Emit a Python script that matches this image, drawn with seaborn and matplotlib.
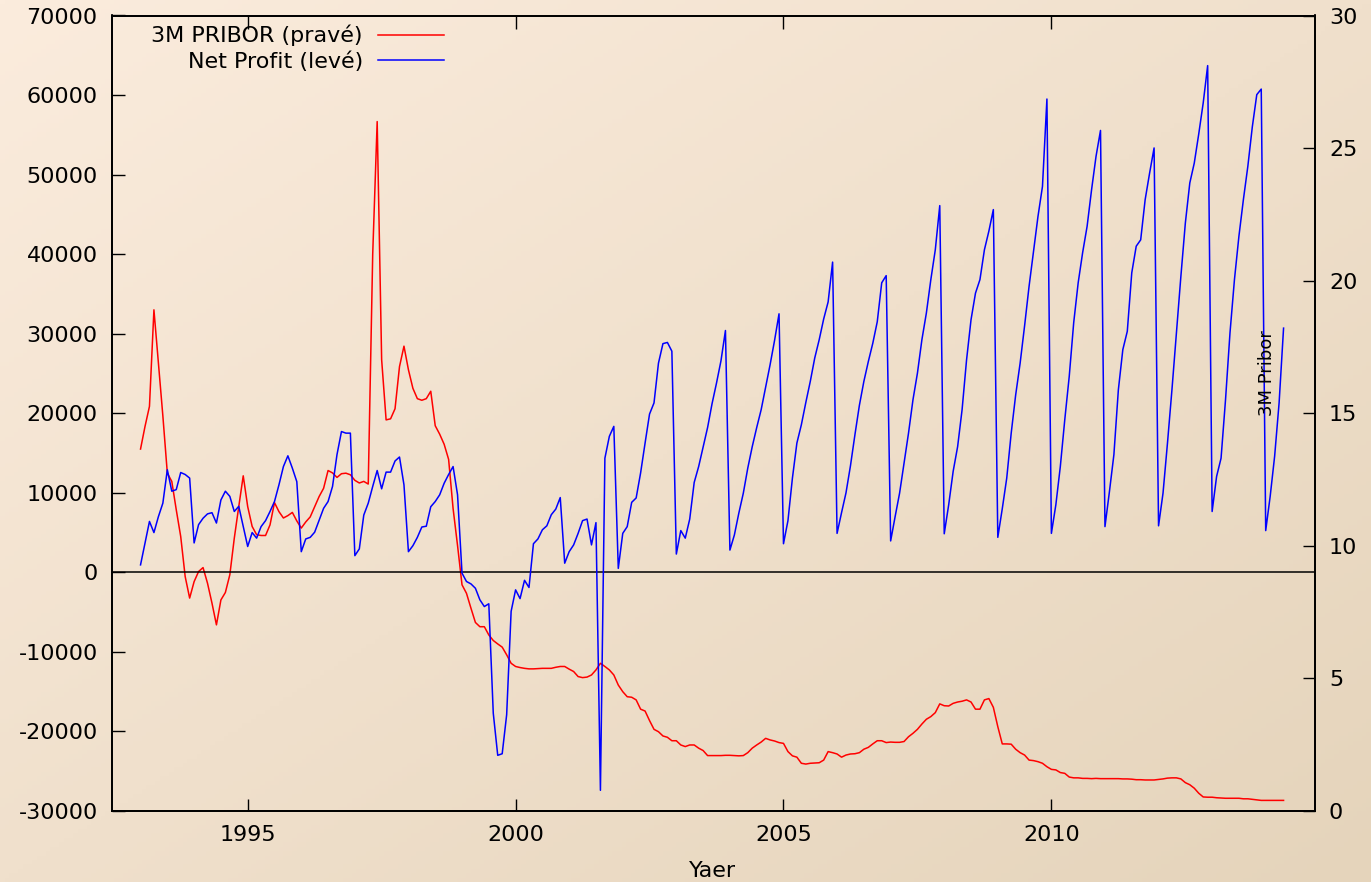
import numpy as np
import pandas as pd
import matplotlib
matplotlib.use('Agg')
import matplotlib.pyplot as plt
import seaborn as sns
from matplotlib.lines import Line2D

plt.rcParams['axes.unicode_minus'] = False

# monthly data, Jan 1993 .. May 2014
start_year = 1993

# Net profit (left axis), one row per year
net_profit = [
    940, 3700, 6400, 5000, 7000, 8700, 12900, 10200, 10400, 12550, 12300, 11850,          # 1993
    3700, 6000, 6800, 7350, 7500, 6200, 9100, 10200, 9550, 7650, 8300, 5750,              # 1994
    3250, 5000, 4300, 5750, 6500, 7650, 8900, 11000, 13300, 14650, 13100, 11400,          # 1995
    2600, 4200, 4400, 5050, 6550, 8050, 8900, 10800, 14800, 17700, 17500, 17500,          # 1996
    2100, 2950, 7200, 8700, 10800, 12800, 10500, 12600, 12600, 14000, 14500, 11000,       # 1997
    2600, 3350, 4400, 5700, 5800, 8250, 8900, 9750, 11200, 12300, 13300, 9750,            # 1998
    -100, -1150, -1450, -2000, -3450, -4300, -3950, -17700, -23000, -22800, -17900, -4900,  # 1999
    -2200, -3300, -1000, -1900, 3600, 4200, 5350, 5850, 7250, 7950, 9400, 1150,           # 2000
    2600, 3450, 4900, 6500, 6700, 3450, 6250, -27400, 14350, 17100, 18350, 500,           # 2001
    4900, 5750, 8800, 9350, 12500, 16250, 19900, 21300, 26300, 28750, 28900, 27800,       # 2002
    2300, 5250, 4300, 6700, 11300, 13300, 15750, 18200, 21200, 23800, 26600, 30400,       # 2003
    2800, 4700, 7450, 9950, 13100, 15800, 18200, 20450, 23300, 26100, 29150, 32500,       # 2004
    3600, 6500, 11850, 16250, 18550, 21350, 24000, 26950, 29250, 31850, 34000, 39000,     # 2005
    4900, 7500, 10000, 13400, 17300, 21000, 24000, 26500, 28800, 31500, 36400, 37300,     # 2006
    3950, 7000, 9950, 13700, 17500, 21700, 25050, 29250, 32600, 36800, 40550, 46100,      # 2007
    4850, 8500, 12700, 15800, 20450, 26700, 31750, 35100, 36800, 40550, 42900, 45600,     # 2008
    4400, 8000, 11850, 17500, 22300, 26300, 31000, 35950, 40300, 44750, 48500, 59500,     # 2009
    4900, 8500, 13300, 19200, 24650, 31400, 36400, 40200, 43500, 48100, 52300, 55550,     # 2010
    5750, 10150, 14800, 22950, 28000, 30300, 37650, 41000, 41800, 46850, 50200, 53350,    # 2011
    5850, 9950, 16250, 22950, 30100, 37200, 43900, 48950, 51450, 55100, 59000, 63700,     # 2012
    7650, 12050, 14350, 21700, 30100, 36800, 42250, 46850, 51050, 56000, 60050, 60750,    # 2013
    5250, 9550, 14600, 21300, 30700,                                                      # 2014
]

# 3M PRIBOR (right axis)
pribor = [
    13.65, 14.5, 15.26, 18.9, 16.9, 14.9, 12.74, 12.43, 11.36, 10.35, 8.84, 8.03,   # 1993
    8.65, 9.03, 9.18, 8.59, 7.84, 7.02, 7.96, 8.24, 8.91, 10.29, 11.48, 12.64,      # 1994
    11.48, 10.73, 10.42, 10.39, 10.39, 10.79, 11.63, 11.29, 11.05, 11.14, 11.26, 10.94,  # 1995
    10.67, 10.9, 11.09, 11.47, 11.86, 12.17, 12.84, 12.75, 12.58, 12.72, 12.74, 12.68,   # 1996
    12.47, 12.37, 12.43, 12.33, 21.0, 26.0, 17.02, 14.75, 14.79, 15.17, 16.76, 17.53,    # 1997
    16.64, 15.94, 15.55, 15.49, 15.55, 15.83, 14.53, 14.21, 13.83, 13.26, 11.41, 10.01,  # 1998
    8.53, 8.21, 7.65, 7.11, 6.95, 6.95, 6.64, 6.43, 6.30, 6.18, 5.89, 5.57,         # 1999
    5.45, 5.41, 5.38, 5.36, 5.36, 5.37, 5.38, 5.38, 5.38, 5.42, 5.45, 5.45,         # 2000
    5.35, 5.26, 5.07, 5.03, 5.05, 5.13, 5.32, 5.57, 5.45, 5.32, 5.13, 4.75,         # 2001
    4.5, 4.31, 4.29, 4.19, 3.84, 3.77, 3.41, 3.08, 2.99, 2.83, 2.78, 2.65,          # 2002
    2.65, 2.49, 2.43, 2.49, 2.49, 2.37, 2.28, 2.09, 2.09, 2.09, 2.09, 2.1,          # 2003
    2.1, 2.09, 2.08, 2.09, 2.2, 2.37, 2.49, 2.6, 2.74, 2.68, 2.64, 2.58,            # 2004
    2.55, 2.24, 2.08, 2.03, 1.8, 1.77, 1.8, 1.81, 1.82, 1.92, 2.24, 2.2,            # 2005
    2.15, 2.03, 2.11, 2.15, 2.16, 2.2, 2.33, 2.4, 2.53, 2.65, 2.65, 2.58,           # 2006
    2.6, 2.59, 2.59, 2.62, 2.8, 2.93, 3.08, 3.28, 3.46, 3.56, 3.71, 4.04,           # 2007
    3.97, 3.96, 4.06, 4.11, 4.14, 4.19, 4.11, 3.84, 3.84, 4.19, 4.24, 3.91,         # 2008
    3.18, 2.53, 2.53, 2.52, 2.33, 2.2, 2.11, 1.92, 1.9, 1.86, 1.8, 1.67,            # 2009
    1.57, 1.55, 1.45, 1.42, 1.28, 1.25, 1.25, 1.23, 1.23, 1.22, 1.23, 1.22,         # 2010
    1.22, 1.22, 1.22, 1.22, 1.21, 1.21, 1.2, 1.18, 1.18, 1.17, 1.17, 1.17,          # 2011
    1.19, 1.21, 1.24, 1.25, 1.25, 1.21, 1.07, 0.99, 0.86, 0.67, 0.53, 0.52,         # 2012
    0.52, 0.5, 0.49, 0.48, 0.48, 0.48, 0.48, 0.46, 0.46, 0.44, 0.42, 0.4,           # 2013
    0.4, 0.4, 0.4, 0.4, 0.4,                                                        # 2014
]

left_ticks = [-30000, -20000, -10000, 0, 10000, 20000, 30000, 40000, 50000, 60000, 70000]
right_ticks = [0, 5, 10, 15, 20, 25, 30]
year_ticks = [1995, 2000, 2005, 2010]

df = pd.DataFrame({'t': start_year + np.arange(len(net_profit)) / 12.0,
                   'profit': net_profit, 'pribor': pribor})

W, H = 1371, 882
fig = plt.figure(figsize=(W / 100, H / 100), dpi=100)

# diagonal background gradient
bg = fig.add_axes([0, 0, 1, 1], zorder=-10)
gx, gy = np.meshgrid(np.linspace(0, 1, 300), np.linspace(0, 1, 200))
g = ((gx + gy) / 2)[..., None]
c0 = np.array([251, 236, 221]) / 255
c1 = np.array([229, 212, 187]) / 255
bg.imshow(c0 * (1 - g) + c1 * g, aspect='auto', extent=[0, 1, 0, 1], origin='upper')
bg.axis('off')

ax = fig.add_axes([111.6 / W, 1 - 811 / H, (1315 - 111.6) / W, (811 - 15.5) / H])
ax2 = ax.twinx()
ax.set_zorder(ax2.get_zorder() + 1)
ax.patch.set_visible(False)
ax2.patch.set_visible(False)

fs = 16
sns.lineplot(data=df, x='t', y='pribor', ax=ax2, color='#ff0000', lw=1.1)
sns.lineplot(data=df, x='t', y='profit', ax=ax, color='#0000ff', lw=1.1)
ax.axhline(0, color='black', lw=1.1, zorder=1)

ax.set_xlim(1992.46, 2014.92)
ax.set_ylim(-30000, 70000)
ax2.set_ylim(0, 30)
ax.set_xticks(year_ticks)
ax.set_yticks(left_ticks)
ax2.set_yticks(right_ticks)
ax.set_xlabel('')
ax.set_ylabel('')
ax2.set_ylabel('')

ax.tick_params(axis='x', direction='in', top=True, length=9, width=1, pad=10, labelsize=fs)
ax.tick_params(axis='y', direction='in', right=False, length=9, width=1, pad=10, labelsize=fs)
ax2.tick_params(axis='y', direction='in', length=9, width=1, pad=10, labelsize=fs)
for a in (ax, ax2):
    for s in a.spines.values():
        s.set_linewidth(1.3)
        s.set_color('black')

handles = [Line2D([], [], color='#ff0000', lw=1.1), Line2D([], [], color='#0000ff', lw=1.1)]
ax.legend(handles, ['3M PRIBOR (pravé)', 'Net Profit (levé)'], loc='upper right',
          bbox_to_anchor=(444 / W, 1 - 25 / H), bbox_transform=fig.transFigure,
          frameon=False, markerfirst=False, fontsize=fs, handlelength=2.97,
          handletextpad=0.68, labelspacing=0.22, borderpad=0, borderaxespad=0)

fig.text(1267 / W, 1 - 373 / H, '3M Pribor', rotation=90, ha='center', va='center', fontsize=13)
fig.text(713 / W, 1 - 871 / H, 'Yaer', ha='center', va='center', fontsize=fs)

fig.savefig('out.png', dpi=100)
